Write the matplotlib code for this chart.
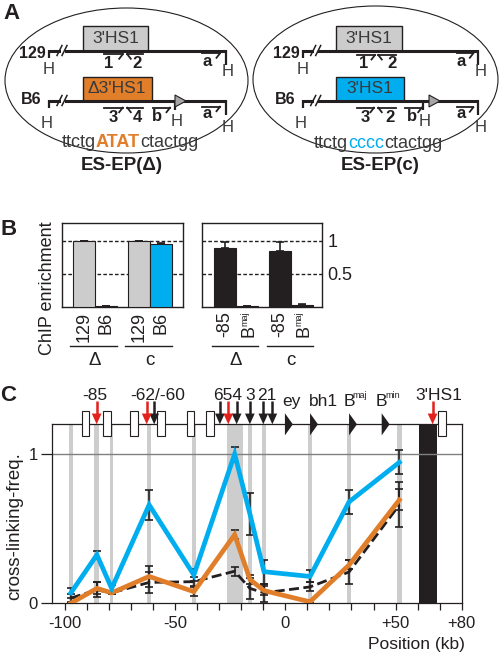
import numpy as np
import matplotlib.pyplot as plt
from matplotlib.patches import Rectangle, Ellipse, Polygon
from matplotlib.transforms import blended_transform_factory

plt.rcParams['font.family'] = ['Liberation Sans', 'DejaVu Sans']

DARK = '#231F20'
BLUE = '#00AEEF'
ORANGE = '#E07E2A'
LGRAY = '#CCCCCC'
BAND = '#CDCDCD'
RED = '#E3201B'

# ---- panel B data
b_left_labels = ['129', 'B6', '129', 'B6']
b_left_vals = [1.0, 0.012, 1.0, 0.95]
b_left_err = [0, 0.006, 0, 0.02]
b_left_cols = [LGRAY, DARK, LGRAY, BLUE]
b_right_labels = ['-85', ('B', 'maj'), '-85', ('B', 'maj')]
b_right_vals = [0.886, 0.015, 0.845, 0.035]
b_right_err = [0.09, 0.005, 0.13, 0.008]
b_groups = ['Δ', 'c']
b_xpos = [0, 1, 2.5, 3.5]

# ---- panel C data
pos_kb = [-97.3, -85.5, -78.8, -61.8, -41.5, -23, -16.1, -9.7, 11.2, 28.9, 51.7]
band_w = [1.5, 2.3, 1.5, 1.5, 1.5, 7.2, 1.5, 1.5, 1.5, 1.5, 2.5]
blue_val = [0.07, 0.325, 0.10, 0.66, 0.19, 1.0, 0.60, 0.212, 0.18, 0.68, 0.945]
blue_err = [0.035, 0.025, 0.02, 0.10, 0.04, 0.05, 0.14, 0.08, 0.04, 0.08, 0.08]
orange_val = [0.0, 0.10, 0.07, 0.18, 0.078, 0.46, 0.16, 0.085, 0.01, 0.257, 0.693]
orange_err = [0.01, 0.04, 0.01, 0.07, 0.03, 0.03, 0.03, 0.03, 0.01, 0.03, 0.07]
black_val = [0.035, 0.09, 0.07, 0.14, 0.145, 0.215, 0.10, 0.07, 0.11, 0.21, 0.66]
black_err = [0.03, 0.05, 0.01, 0.07, 0.03, 0.03, 0.07, 0.06, 0.03, 0.08, 0.15]
hs1_span = (60.6, 68.6)

box_kb = [-90.7, -80.9, -68.6, -56.4, -43.1, -34.1, 71.1]
red_arrow_kb = [-85.6, -62.9, -25.9, 66.8]
black_arrow_kb = [-59.5, -29.7, -22.1, -16.1, -10.0, -5.9]
tri_kb = [-0.2, 11.2, 28.9, 43.7]
site_labels = ['-85', '-62/-60', '654', '3', '21', "3'HS1"]
site_x = [-86.4, -57.7, -26.0, -16.1, -8.35, 69.4]
gene_labels = ['ey', 'bh1']
gene_x = [2.86, 17.5]
glob_sup = ['maj', 'min']
glob_x = [26.3, 41.1]      # left edge of the "B"
sup_x = [30.6, 45.4]

fig = plt.figure(figsize=(5, 6.55), dpi=100)
ax0 = fig.add_axes([0, 0, 1, 1])
ax0.set_xlim(0, 500)
ax0.set_ylim(655, 0)
ax0.axis('off')


def px_rect(l, t, r, b):
    return [l / 500, 1 - b / 655, (r - l) / 500, (b - t) / 655]


# ================= panel A (schematic)
def hline(x0, x1, y):
    ax0.plot([x0, x1], [y, y], color=DARK, lw=2.2, solid_capstyle='butt')


def drop(x, y0, y1):
    ax0.plot([x, x], [y0, y1], color=DARK, lw=1.6, solid_capstyle='butt')


def hsite(x, y):
    ax0.text(x, y, 'H', fontsize=12, color='#3a3a3a', ha='center', va='center')


def brk(x, y):
    ax0.add_patch(Rectangle((x + 1.5, y - 2), 4, 4, fc='white', ec='none', zorder=3))
    for dx in (0, 5):
        ax0.plot([x + dx - 2, x + dx + 3], [y + 5, y - 5], color=DARK, lw=1.1, zorder=4)


def primer(x0, x1, y, right, label, lx, ly):
    ax0.plot([x0, x1], [y, y], color=DARK, lw=1.3)
    if right:
        ax0.plot([x1, x1 - 3.5], [y, y + 4.5], color=DARK, lw=1.3)
    else:
        ax0.plot([x0, x0 + 3.5], [y, y + 4.5], color=DARK, lw=1.3)
    ax0.text(lx, ly, label, fontsize=12, fontweight='bold', color=DARK,
             ha='center', va='center')


def seq(xc, y, pieces):
    r = fig.canvas.get_renderer()
    ts = []
    for s, c, w in pieces:
        t = ax0.text(0, y, s, color=c, fontweight=w, fontsize=13, ha='left', va='baseline')
        ts.append(t)
    widths = [t.get_window_extent(r).width for t in ts]
    x = xc - sum(widths) / 2
    for t, w in zip(ts, widths):
        t.set_x(x)
        x += w


def locus(ox, x0, x1, box_l, box_r, box_col, box_txt, mid, tri, primers_top, primers_bot):
    # 129 allele
    ax0.add_patch(Rectangle((box_l, 26), box_r - box_l, 24.5, fc=LGRAY, ec=DARK, lw=1, zorder=2))
    ax0.text((box_l + box_r) / 2, 38.5, "3'HS1", fontsize=12.5, color='#3a3a3a',
             ha='center', va='center', zorder=3)
    hline(x0, x1, 50.5)
    drop(x0, 50, 58)
    drop(x1, 50, 65)
    brk(x0 + 10, 50.5)
    hsite(x0, 69)
    hsite(x1 + 2, 72)
    ax0.text(x0 - 3, 53, '129', fontsize=11.5, fontweight='bold', color=DARK, ha='right', va='center')
    for p in primers_top:
        primer(*p)
    # B6 allele
    ax0.add_patch(Rectangle((box_l, 77), box_r - box_l + ox, 23.5, fc=box_col, ec=DARK, lw=1, zorder=2))
    ax0.text((box_l + box_r + ox) / 2, 88.5, box_txt, fontsize=12.5, color='#3a3a3a',
             ha='center', va='center', zorder=3)
    hline(x0, x1, 100.5)
    drop(x0, 100, 108)
    drop(mid, 100, 110)
    drop(x1, 100, 115)
    brk(x0 + 10, 100.5)
    ax0.add_patch(Polygon([(tri, 95), (tri, 107), (tri + 11, 101)], closed=True,
                          fc='#A6A6A6', ec=DARK, lw=0.8, zorder=3))
    hsite(x0 - 2, 123)
    hsite(mid + 1.5, 121)
    hsite(x1 + 2, 127.5)
    ax0.text(x0 - 7, 100, 'B6', fontsize=11.5, fontweight='bold', color=DARK, ha='right', va='center')
    for p in primers_bot:
        primer(*p)


ax0.add_patch(Ellipse((126.5, 80.5), 243, 145, fc='none', ec=DARK, lw=0.8))
ax0.add_patch(Ellipse((375.5, 79.5), 245, 147, fc='none', ec=DARK, lw=0.8))

locus(3.5, 49, 226, 82.7, 148.3, ORANGE, 'Δ3\'HS1', 175, 175,
      [(104, 122.7, 54.3, True, '1', 108.3, 63.5),
       (127.3, 143.3, 54.3, False, '2', 136.7, 63.5),
       (202.3, 220, 53.3, True, 'a', 207, 61.5)],
      [(104, 122.7, 107.7, True, '3', 113, 118),
       (127.3, 143.3, 107.7, False, '4', 137, 118),
       (152.7, 170, 107.7, True, 'b', 156.7, 116.5),
       (202.3, 220, 106.7, True, 'a', 207, 114)])
locus(2.3, 302.7, 478.3, 336, 401.7, BLUE, "3'HS1", 423.3, 429,
      [(357.3, 375, 55, True, '1', 363.3, 63.5),
       (378.3, 396, 55, False, '2', 391.7, 63.5),
       (456.7, 473.3, 53.3, True, 'a', 460.7, 61.5)],
      [(357.3, 374, 107.7, True, '3', 365, 118),
       (378.3, 395.7, 107.7, False, '2', 390, 118),
       (405, 421.7, 107.7, True, 'b', 411.7, 116.5),
       (456.7, 473.3, 107.3, True, 'a', 460.7, 114)])

seq(130, 147, [('ttctg', '#3a3a3a', 'normal'), ('ATAT', ORANGE, 'bold'),
               ('ctactgg', '#3a3a3a', 'normal')])
seq(378, 147.5, [('ttctg', '#3a3a3a', 'normal'), ('cccc', BLUE, 'normal'),
                 ('ctactgg', '#3a3a3a', 'normal')])
ax0.text(122, 166, 'ES-EP(Δ)', fontsize=13.5, fontweight='bold', color=DARK, ha='center', va='center')
ax0.text(380, 165.5, 'ES-EP(c)', fontsize=13.5, fontweight='bold', color=DARK, ha='center', va='center')

for lab, (x, y) in zip('ABC', [(11.5, 13.5), (8.5, 229.5), (8.5, 395.5)]):
    ax0.text(x, y, lab, fontsize=16, fontweight='bold', color=DARK, ha='center', va='center')

# ================= panel B
axL = fig.add_axes(px_rect(62.3, 223.3, 182.7, 307.3))
axR = fig.add_axes(px_rect(202.3, 223.3, 321.7, 307.3))
panels = [(axL, b_left_labels, b_left_vals, b_left_err, b_left_cols, (-0.97, 4.5)),
          (axR, b_right_labels, b_right_vals, b_right_err, [DARK] * 4, (-1.05, 4.42))]
for ax, labs, vals, errs, cols, xl in panels:
    ax.bar(b_xpos, vals, width=1.0, color=cols, edgecolor=DARK, lw=0.8, zorder=3)
    ax.errorbar(b_xpos, vals, yerr=[np.zeros(4), errs], fmt='none', ecolor=DARK,
                elinewidth=1.2, capsize=3, capthick=1.2, zorder=4)
    for yv in (0.5, 1.0):
        ax.axhline(yv, color=DARK, lw=1, dashes=(2.6, 1.6), zorder=1)
    ax.set_xlim(*xl)
    ax.set_ylim(0, 1.26)
    ax.set_xticks([])
    ax.set_yticks([])
    for s in ax.spines.values():
        s.set_linewidth(1.0)
        s.set_color(DARK)
    tr = blended_transform_factory(ax.transData, ax.transAxes)
    for x, lab in zip(b_xpos, labs):
        if isinstance(lab, tuple):
            ax.text(x - 0.12, -0.05, lab[1], rotation=90, fontsize=6.5, color=DARK,
                    ha='center', va='top', transform=tr)
            ax.text(x + 0.1, -0.215, lab[0], rotation=90, fontsize=13, color=DARK,
                    ha='center', va='top', transform=tr)
        else:
            ax.text(x, -0.05, lab, rotation=90, fontsize=13, color=DARK,
                    ha='center', va='top', transform=tr)
    for g, (a, b) in enumerate([(b_xpos[0], b_xpos[1]), (b_xpos[2], b_xpos[3])]):
        ax.plot([a - 0.5 - 0.1, b + 0.5], [-0.46, -0.46], color=DARK, lw=1.0,
                transform=tr, clip_on=False)
        ax.text(a + 0.5, -0.63, b_groups[g], fontsize=13.5, color=DARK, ha='center',
                va='center', transform=tr)
axR.yaxis.tick_right()
axR.set_yticks([0.5, 1.0])
axR.set_yticklabels(['0.5', '1'], fontsize=13, color=DARK)
axR.tick_params(axis='y', length=0, pad=4)
ax0.text(48, 288, 'ChIP enrichment', rotation=90, fontsize=13, color=DARK,
         ha='center', va='center')

# ================= panel C
axC = fig.add_axes(px_rect(51.7, 424.3, 461.7, 603.3))
axC.set_xlim(-106, 80)
axC.set_ylim(0, 1.20)
for p, w in zip(pos_kb, band_w):
    axC.axvspan(p - w / 2, p + w / 2, color=BAND, lw=0, zorder=1)
axC.axvspan(*hs1_span, color=DARK, lw=0, zorder=1)
axC.axhline(1.0, color='#808080', lw=1.0, zorder=1.5)

for vals, errs in ((black_val, black_err), (orange_val, orange_err), (blue_val, blue_err)):
    axC.errorbar(pos_kb, vals, yerr=errs, fmt='none', ecolor=DARK,
                 elinewidth=1.2, capsize=3, capthick=1.2, zorder=2)
axC.plot(pos_kb, black_val, color=DARK, lw=2.0, dashes=(3.6, 1.6), zorder=3)
axC.plot(pos_kb, orange_val, color=ORANGE, lw=3.4, zorder=3.5, solid_joinstyle='miter')
axC.plot(pos_kb, blue_val, color=BLUE, lw=3.4, zorder=4, solid_joinstyle='miter')

for s in axC.spines.values():
    s.set_linewidth(0.9)
    s.set_color(DARK)
axC.set_yticks([0, 1])
axC.set_yticklabels(['0', '1'], fontsize=12, color=DARK)
axC.tick_params(axis='y', direction='out', length=8, width=0.9, pad=2, color=DARK)
axC.set_xticks([-100, -50, 0, 50, 80])
axC.set_xticklabels(['-100', '-50', '0', '+50', '+80'], fontsize=12, color=DARK)
axC.set_xticks(np.arange(-100, 81, 10), minor=True)
axC.tick_params(axis='x', which='both', direction='out', length=5, width=0.9, pad=4, color=DARK)

# locus map on top edge
top = 1.20
for b in box_kb:
    axC.add_patch(Rectangle((b - 1.7, 1.123), 3.4, 0.167, fc='white', ec=DARK, lw=0.8,
                            clip_on=False, zorder=6))
for t in tri_kb:
    axC.add_patch(Polygon([(t, 1.126), (t, 1.274), (t + 3.6, top)], closed=True,
                          fc=DARK, ec='none', clip_on=False, zorder=6))
for xs, col in ((black_arrow_kb, DARK), (red_arrow_kb, RED)):
    for x in xs:
        axC.plot([x, x], [1.353, 1.26], color=col, lw=1.8, clip_on=False, zorder=7,
                 solid_capstyle='butt')
        axC.add_patch(Polygon([(x - 2.2, 1.272), (x + 2.2, 1.272), (x, top)], closed=True,
                              fc=col, ec='none', clip_on=False, zorder=7))
for lab, x in zip(site_labels, site_x):
    axC.text(x, 1.365, lab, fontsize=12.5, color=DARK, ha='center', va='baseline')
for lab, x in zip(gene_labels, gene_x):
    axC.text(x, 1.32, lab, fontsize=12.5, color=DARK, ha='center', va='baseline')
for sup, xb, xs in zip(glob_sup, glob_x, sup_x):
    axC.text(xb, 1.32, 'B', fontsize=12.5, color=DARK, ha='left', va='baseline')
    axC.text(xs, 1.378, sup, fontsize=6.5, color=DARK, ha='left', va='baseline')

ax0.text(14.5, 526, 'cross-linking-freq.', rotation=90, fontsize=13.5, color=DARK,
         ha='center', va='center')
ax0.text(465, 645, 'Position (kb)', fontsize=12.5, color=DARK, ha='right', va='center')

fig.savefig('out.png', dpi=100)
